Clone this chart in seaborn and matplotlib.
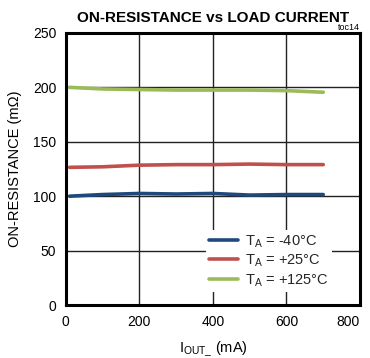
import matplotlib
matplotlib.use("Agg")
import matplotlib.pyplot as plt
import seaborn as sns
import pandas as pd

current_ma = [10, 100, 200, 300, 400, 500, 600, 700]
r_m40 = [100, 101.5, 102.5, 102, 102.5, 101, 101.5, 101.5]
r_p25 = [126.5, 127, 128.5, 129, 129, 129.5, 129, 129]
r_p125 = [200, 198.5, 198, 197.5, 197.5, 197.5, 197, 195.5]
labels = [r"T$_\mathrm{A}$ = -40°C", r"T$_\mathrm{A}$ = +25°C", r"T$_\mathrm{A}$ = +125°C"]
colors = ["#1F497D", "#C0504D", "#9BBB59"]

rows = []
for lab, vals in zip(labels, [r_m40, r_p25, r_p125]):
    for x, y in zip(current_ma, vals):
        rows.append({"I": x, "R": y, "T": lab})
df = pd.DataFrame(rows)

sns.set_theme(style="white")
plt.rcParams['font.family'] = ['Liberation Sans', 'DejaVu Sans']
plt.rcParams['mathtext.fontset'] = 'custom'
plt.rcParams['mathtext.rm'] = 'Liberation Sans'

fig = plt.figure(figsize=(3.7, 3.58), dpi=100)
ax = fig.add_axes([0.178, 0.148, 0.795, 0.760])
sns.lineplot(data=df, x="I", y="R", hue="T", palette=colors, linewidth=2.6, ax=ax, legend=True)

ax.set_xlim(0, 800)
ax.set_ylim(0, 250)
ax.set_xticks([0, 200, 400, 600, 800])
ax.set_yticks([0, 50, 100, 150, 200, 250])
ax.grid(True, color="#222222", linewidth=1.0)
for s in ax.spines.values():
    s.set_color("black")
    s.set_linewidth(2.2)
ax.tick_params(axis="both", length=0, labelsize=10, colors="black", pad=7)
ax.get_xticklabels()[-1].set_horizontalalignment("right")
ax.set_xlabel(r"I$_\mathrm{OUT\_}$ (mA)", fontsize=10.5, color="black", labelpad=8)
ax.set_ylabel("ON-RESISTANCE (m\u03a9)", fontsize=10.5, color="black", labelpad=8)
ax.set_title("ON-RESISTANCE vs LOAD CURRENT", fontsize=11, fontweight="bold", pad=8, color="black")
ax.text(1.0, 1.003, "toc14", transform=ax.transAxes, ha="right", va="bottom", fontsize=6.5, color="black")

leg = ax.legend(loc="lower right", bbox_to_anchor=(0.93, 0.022), frameon=True, fontsize=10.5,
                handlelength=2.0, labelspacing=0.2, borderpad=0.2, handletextpad=0.5)
leg.get_frame().set_facecolor("white")
leg.get_frame().set_edgecolor("none")
leg.get_frame().set_alpha(1.0)
leg.get_frame().set_boxstyle("square", pad=0)

fig.savefig("out.png", dpi=100, facecolor="white")
